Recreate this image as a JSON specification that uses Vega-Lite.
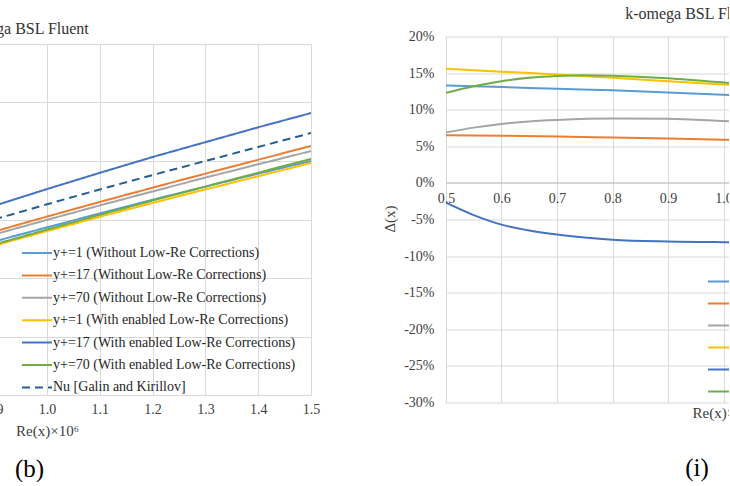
{
  "$schema": "https://vega.github.io/schema/vega-lite/v6.json",
  "padding": {"left": -217, "right": -272, "top": 5.5, "bottom": 0},
  "autosize": {"type": "pad"},
  "background": "white",
  "bounds": "flush",
  "center": true,
  "spacing": 135,
  "config": {
    "font": "Liberation Serif",
    "view": {"stroke": null},
    "axis": {"labelFont": "Liberation Serif", "labelFontSize": 14, "labelColor": "#404040", "labelFlush": false, "titleFont": "Liberation Serif", "titleFontSize": 15, "titleFontWeight": "normal", "titleColor": "#404040", "gridColor": "#d9d9d9", "gridWidth": 1},
    "legend": {"labelFont": "Liberation Serif", "labelFontSize": 14, "labelColor": "#262626", "padding": 0, "symbolType": "M-1.5,0L1.5,0", "symbolSize": 400, "symbolStrokeWidth": 2, "labelOffset": 5, "labelLimit": 400},
    "title": {"font": "Liberation Serif", "fontSize": 16, "fontWeight": "normal", "color": "#333333"}
  },
  "datasets": {
    "nu": [
      {"re": 0.9, "nu": 1312, "series": "y+=1 (Without Low-Re Corrections)"},
      {"re": 1.0, "nu": 1433, "series": "y+=1 (Without Low-Re Corrections)"},
      {"re": 1.1, "nu": 1552, "series": "y+=1 (Without Low-Re Corrections)"},
      {"re": 1.2, "nu": 1669, "series": "y+=1 (Without Low-Re Corrections)"},
      {"re": 1.3, "nu": 1781, "series": "y+=1 (Without Low-Re Corrections)"},
      {"re": 1.4, "nu": 1892, "series": "y+=1 (Without Low-Re Corrections)"},
      {"re": 1.5, "nu": 2000, "series": "y+=1 (Without Low-Re Corrections)"},
      {"re": 0.9, "nu": 1397, "series": "y+=17 (Without Low-Re Corrections)"},
      {"re": 1.0, "nu": 1525, "series": "y+=17 (Without Low-Re Corrections)"},
      {"re": 1.1, "nu": 1650, "series": "y+=17 (Without Low-Re Corrections)"},
      {"re": 1.2, "nu": 1772, "series": "y+=17 (Without Low-Re Corrections)"},
      {"re": 1.3, "nu": 1892, "series": "y+=17 (Without Low-Re Corrections)"},
      {"re": 1.4, "nu": 2011, "series": "y+=17 (Without Low-Re Corrections)"},
      {"re": 1.5, "nu": 2128, "series": "y+=17 (Without Low-Re Corrections)"},
      {"re": 0.9, "nu": 1372, "series": "y+=70 (Without Low-Re Corrections)"},
      {"re": 1.0, "nu": 1497, "series": "y+=70 (Without Low-Re Corrections)"},
      {"re": 1.1, "nu": 1620, "series": "y+=70 (Without Low-Re Corrections)"},
      {"re": 1.2, "nu": 1740, "series": "y+=70 (Without Low-Re Corrections)"},
      {"re": 1.3, "nu": 1858, "series": "y+=70 (Without Low-Re Corrections)"},
      {"re": 1.4, "nu": 1972, "series": "y+=70 (Without Low-Re Corrections)"},
      {"re": 1.5, "nu": 2085, "series": "y+=70 (Without Low-Re Corrections)"},
      {"re": 0.9, "nu": 1277, "series": "y+=1 (With enabled Low-Re Corrections)"},
      {"re": 1.0, "nu": 1401, "series": "y+=1 (With enabled Low-Re Corrections)"},
      {"re": 1.1, "nu": 1523, "series": "y+=1 (With enabled Low-Re Corrections)"},
      {"re": 1.2, "nu": 1642, "series": "y+=1 (With enabled Low-Re Corrections)"},
      {"re": 1.3, "nu": 1757, "series": "y+=1 (With enabled Low-Re Corrections)"},
      {"re": 1.4, "nu": 1870, "series": "y+=1 (With enabled Low-Re Corrections)"},
      {"re": 1.5, "nu": 1983, "series": "y+=1 (With enabled Low-Re Corrections)"},
      {"re": 0.9, "nu": 1617, "series": "y+=17 (With enabled Low-Re Corrections)"},
      {"re": 1.0, "nu": 1760, "series": "y+=17 (With enabled Low-Re Corrections)"},
      {"re": 1.1, "nu": 1899, "series": "y+=17 (With enabled Low-Re Corrections)"},
      {"re": 1.2, "nu": 2034, "series": "y+=17 (With enabled Low-Re Corrections)"},
      {"re": 1.3, "nu": 2161, "series": "y+=17 (With enabled Low-Re Corrections)"},
      {"re": 1.4, "nu": 2288, "series": "y+=17 (With enabled Low-Re Corrections)"},
      {"re": 1.5, "nu": 2410, "series": "y+=17 (With enabled Low-Re Corrections)"},
      {"re": 0.9, "nu": 1286, "series": "y+=70 (With enabled Low-Re Corrections)"},
      {"re": 1.0, "nu": 1414, "series": "y+=70 (With enabled Low-Re Corrections)"},
      {"re": 1.1, "nu": 1540, "series": "y+=70 (With enabled Low-Re Corrections)"},
      {"re": 1.2, "nu": 1662, "series": "y+=70 (With enabled Low-Re Corrections)"},
      {"re": 1.3, "nu": 1781, "series": "y+=70 (With enabled Low-Re Corrections)"},
      {"re": 1.4, "nu": 1900, "series": "y+=70 (With enabled Low-Re Corrections)"},
      {"re": 1.5, "nu": 2017, "series": "y+=70 (With enabled Low-Re Corrections)"},
      {"re": 0.9, "nu": 1500, "series": "Nu [Galin and Kirillov]"},
      {"re": 1.0, "nu": 1630, "series": "Nu [Galin and Kirillov]"},
      {"re": 1.1, "nu": 1757, "series": "Nu [Galin and Kirillov]"},
      {"re": 1.2, "nu": 1880, "series": "Nu [Galin and Kirillov]"},
      {"re": 1.3, "nu": 2000, "series": "Nu [Galin and Kirillov]"},
      {"re": 1.4, "nu": 2120, "series": "Nu [Galin and Kirillov]"},
      {"re": 1.5, "nu": 2239, "series": "Nu [Galin and Kirillov]"}
    ],
    "delta": [
      {"re": 0.5, "d": 13.3, "series": "y+=1 (Without Low-Re Corrections)"},
      {"re": 0.6, "d": 13.1, "series": "y+=1 (Without Low-Re Corrections)"},
      {"re": 0.7, "d": 12.85, "series": "y+=1 (Without Low-Re Corrections)"},
      {"re": 0.8, "d": 12.65, "series": "y+=1 (Without Low-Re Corrections)"},
      {"re": 0.9, "d": 12.35, "series": "y+=1 (Without Low-Re Corrections)"},
      {"re": 1.0, "d": 12.05, "series": "y+=1 (Without Low-Re Corrections)"},
      {"re": 1.1, "d": 11.8, "series": "y+=1 (Without Low-Re Corrections)"},
      {"re": 1.2, "d": 11.55, "series": "y+=1 (Without Low-Re Corrections)"},
      {"re": 1.3, "d": 11.3, "series": "y+=1 (Without Low-Re Corrections)"},
      {"re": 1.4, "d": 11.1, "series": "y+=1 (Without Low-Re Corrections)"},
      {"re": 1.5, "d": 10.9, "series": "y+=1 (Without Low-Re Corrections)"},
      {"re": 0.5, "d": 6.5, "series": "y+=17 (Without Low-Re Corrections)"},
      {"re": 0.6, "d": 6.45, "series": "y+=17 (Without Low-Re Corrections)"},
      {"re": 0.7, "d": 6.35, "series": "y+=17 (Without Low-Re Corrections)"},
      {"re": 0.8, "d": 6.2, "series": "y+=17 (Without Low-Re Corrections)"},
      {"re": 0.9, "d": 6.05, "series": "y+=17 (Without Low-Re Corrections)"},
      {"re": 1.0, "d": 5.9, "series": "y+=17 (Without Low-Re Corrections)"},
      {"re": 1.1, "d": 5.75, "series": "y+=17 (Without Low-Re Corrections)"},
      {"re": 1.2, "d": 5.6, "series": "y+=17 (Without Low-Re Corrections)"},
      {"re": 1.3, "d": 5.45, "series": "y+=17 (Without Low-Re Corrections)"},
      {"re": 1.4, "d": 5.3, "series": "y+=17 (Without Low-Re Corrections)"},
      {"re": 1.5, "d": 5.2, "series": "y+=17 (Without Low-Re Corrections)"},
      {"re": 0.5, "d": 6.9, "series": "y+=70 (Without Low-Re Corrections)"},
      {"re": 0.55, "d": 7.55, "series": "y+=70 (Without Low-Re Corrections)"},
      {"re": 0.6, "d": 8.05, "series": "y+=70 (Without Low-Re Corrections)"},
      {"re": 0.65, "d": 8.4, "series": "y+=70 (Without Low-Re Corrections)"},
      {"re": 0.7, "d": 8.6, "series": "y+=70 (Without Low-Re Corrections)"},
      {"re": 0.8, "d": 8.8, "series": "y+=70 (Without Low-Re Corrections)"},
      {"re": 0.9, "d": 8.75, "series": "y+=70 (Without Low-Re Corrections)"},
      {"re": 1.0, "d": 8.45, "series": "y+=70 (Without Low-Re Corrections)"},
      {"re": 1.1, "d": 8.1, "series": "y+=70 (Without Low-Re Corrections)"},
      {"re": 1.2, "d": 7.7, "series": "y+=70 (Without Low-Re Corrections)"},
      {"re": 1.3, "d": 7.3, "series": "y+=70 (Without Low-Re Corrections)"},
      {"re": 1.4, "d": 6.9, "series": "y+=70 (Without Low-Re Corrections)"},
      {"re": 1.5, "d": 6.5, "series": "y+=70 (Without Low-Re Corrections)"},
      {"re": 0.5, "d": 15.6, "series": "y+=1 (With enabled Low-Re Corrections)"},
      {"re": 0.6, "d": 15.2, "series": "y+=1 (With enabled Low-Re Corrections)"},
      {"re": 0.7, "d": 14.8, "series": "y+=1 (With enabled Low-Re Corrections)"},
      {"re": 0.8, "d": 14.35, "series": "y+=1 (With enabled Low-Re Corrections)"},
      {"re": 0.9, "d": 13.9, "series": "y+=1 (With enabled Low-Re Corrections)"},
      {"re": 1.0, "d": 13.45, "series": "y+=1 (With enabled Low-Re Corrections)"},
      {"re": 1.1, "d": 13.0, "series": "y+=1 (With enabled Low-Re Corrections)"},
      {"re": 1.2, "d": 12.6, "series": "y+=1 (With enabled Low-Re Corrections)"},
      {"re": 1.3, "d": 12.2, "series": "y+=1 (With enabled Low-Re Corrections)"},
      {"re": 1.4, "d": 11.8, "series": "y+=1 (With enabled Low-Re Corrections)"},
      {"re": 1.5, "d": 11.4, "series": "y+=1 (With enabled Low-Re Corrections)"},
      {"re": 0.5, "d": -2.7, "series": "y+=17 (With enabled Low-Re Corrections)"},
      {"re": 0.55, "d": -4.4, "series": "y+=17 (With enabled Low-Re Corrections)"},
      {"re": 0.6, "d": -5.7, "series": "y+=17 (With enabled Low-Re Corrections)"},
      {"re": 0.65, "d": -6.5, "series": "y+=17 (With enabled Low-Re Corrections)"},
      {"re": 0.7, "d": -7.05, "series": "y+=17 (With enabled Low-Re Corrections)"},
      {"re": 0.75, "d": -7.45, "series": "y+=17 (With enabled Low-Re Corrections)"},
      {"re": 0.8, "d": -7.75, "series": "y+=17 (With enabled Low-Re Corrections)"},
      {"re": 0.9, "d": -8.0, "series": "y+=17 (With enabled Low-Re Corrections)"},
      {"re": 1.0, "d": -8.1, "series": "y+=17 (With enabled Low-Re Corrections)"},
      {"re": 1.1, "d": -8.15, "series": "y+=17 (With enabled Low-Re Corrections)"},
      {"re": 1.2, "d": -8.15, "series": "y+=17 (With enabled Low-Re Corrections)"},
      {"re": 1.3, "d": -8.1, "series": "y+=17 (With enabled Low-Re Corrections)"},
      {"re": 1.4, "d": -8.05, "series": "y+=17 (With enabled Low-Re Corrections)"},
      {"re": 1.5, "d": -8.0, "series": "y+=17 (With enabled Low-Re Corrections)"},
      {"re": 0.5, "d": 12.3, "series": "y+=70 (With enabled Low-Re Corrections)"},
      {"re": 0.55, "d": 13.2, "series": "y+=70 (With enabled Low-Re Corrections)"},
      {"re": 0.6, "d": 13.9, "series": "y+=70 (With enabled Low-Re Corrections)"},
      {"re": 0.65, "d": 14.35, "series": "y+=70 (With enabled Low-Re Corrections)"},
      {"re": 0.7, "d": 14.6, "series": "y+=70 (With enabled Low-Re Corrections)"},
      {"re": 0.75, "d": 14.7, "series": "y+=70 (With enabled Low-Re Corrections)"},
      {"re": 0.8, "d": 14.65, "series": "y+=70 (With enabled Low-Re Corrections)"},
      {"re": 0.9, "d": 14.3, "series": "y+=70 (With enabled Low-Re Corrections)"},
      {"re": 1.0, "d": 13.7, "series": "y+=70 (With enabled Low-Re Corrections)"},
      {"re": 1.1, "d": 13.0, "series": "y+=70 (With enabled Low-Re Corrections)"},
      {"re": 1.2, "d": 12.3, "series": "y+=70 (With enabled Low-Re Corrections)"},
      {"re": 1.3, "d": 11.6, "series": "y+=70 (With enabled Low-Re Corrections)"},
      {"re": 1.4, "d": 10.9, "series": "y+=70 (With enabled Low-Re Corrections)"},
      {"re": 1.5, "d": 10.2, "series": "y+=70 (With enabled Low-Re Corrections)"}
    ]
  },
  "resolve": {
    "scale": {"color": "independent", "strokeDash": "independent", "x": "independent", "y": "independent"},
    "legend": {"color": "independent", "strokeDash": "independent"}
  },
  "hconcat": [
    {
      "width": 528,
      "height": 351,
      "title": {"text": "k-omega BSL Fluent", "frame": "group", "anchor": "middle", "dx": -25, "offset": 7.5},
      "data": {"name": "nu"},
      "layer": [
        {
          "mark": {"type": "line", "strokeWidth": 2, "clip": true},
          "encoding": {
            "x": {
              "field": "re", "type": "quantitative",
              "scale": {"domain": [0.5, 1.5], "nice": false, "zero": false},
              "axis": {"orient": "bottom", "values": [0.6, 0.7, 0.8, 0.9, 1.0, 1.1, 1.2, 1.3, 1.4, 1.5], "format": ".1f", "grid": false, "domain": false, "ticks": false, "labelPadding": 7, "title": "Re(x)×10⁶", "titleY": 35, "titleBaseline": "middle"}
            },
            "y": {
              "field": "nu", "type": "quantitative",
              "scale": {"domain": [0, 3000], "nice": false, "zero": false},
              "axis": {"values": [0, 500, 1000, 1500, 2000, 2500, 3000], "labels": false, "ticks": false, "domain": false, "title": null, "grid": true}
            },
            "color": {
              "field": "series", "type": "nominal",
              "scale": {
                "domain": ["y+=1 (Without Low-Re Corrections)", "y+=17 (Without Low-Re Corrections)", "y+=70 (Without Low-Re Corrections)", "y+=1 (With enabled Low-Re Corrections)", "y+=17 (With enabled Low-Re Corrections)", "y+=70 (With enabled Low-Re Corrections)", "Nu [Galin and Kirillov]"],
                "range": ["#5B9BD5", "#ED7D31", "#A5A5A5", "#FFC000", "#4472C4", "#70AD47", "#255E91"]
              },
              "legend": {"title": null, "orient": "none", "legendX": 243, "legendY": 198, "rowPadding": 4.4}
            },
            "strokeDash": {
              "field": "series", "type": "nominal",
              "scale": {
                "domain": ["y+=1 (Without Low-Re Corrections)", "y+=17 (Without Low-Re Corrections)", "y+=70 (Without Low-Re Corrections)", "y+=1 (With enabled Low-Re Corrections)", "y+=17 (With enabled Low-Re Corrections)", "y+=70 (With enabled Low-Re Corrections)", "Nu [Galin and Kirillov]"],
                "range": [[1, 0], [1, 0], [1, 0], [1, 0], [1, 0], [1, 0], [8, 5]]
              },
              "legend": {"title": null, "orient": "none", "legendX": 243, "legendY": 198, "rowPadding": 4.4}
            }
          }
        },
        {
          "mark": {"type": "rule", "opacity": 0},
          "encoding": {
            "x": {
              "field": "re", "type": "quantitative",
              "axis": {"orient": "bottom", "values": [0.5, 0.6, 0.7, 0.8, 0.9, 1.0, 1.1, 1.2, 1.3, 1.4, 1.5], "grid": true, "labels": false, "ticks": false, "domain": false, "title": "(b)", "titleX": 246, "titleY": 73, "titleBaseline": "middle", "titleFontSize": 25, "titleColor": "#000000"}
            }
          }
        }
      ],
      "resolve": {"axis": {"x": "independent"}}
    },
    {
      "width": 555,
      "height": 366,
      "title": {"text": "k-omega BSL Fluent", "frame": "group", "anchor": "middle", "dx": -31.5, "offset": 7.5},
      "data": {"name": "delta"},
      "layer": [
        {
          "mark": {"type": "line", "strokeWidth": 2, "interpolate": "monotone", "clip": true},
          "encoding": {
            "x": {
              "field": "re", "type": "quantitative",
              "scale": {"domain": [0.5, 1.5], "nice": false, "zero": false},
              "axis": {"orient": "bottom", "offset": -220, "values": [0.5, 0.6, 0.7, 0.8, 0.9, 1.0, 1.1, 1.2, 1.3, 1.4], "format": ".1f", "grid": false, "domain": true, "domainColor": "#bfbfbf", "ticks": false, "labelPadding": 9, "title": "Re(x)×10⁶", "titleY": 230, "titleBaseline": "middle"}
            },
            "y": {
              "field": "d", "type": "quantitative",
              "scale": {"domain": [-30, 20], "nice": false, "zero": false},
              "axis": {"values": [-30, -25, -20, -15, -10, -5, 0, 5, 10, 15, 20], "labelExpr": "datum.value + '%'", "ticks": false, "domain": false, "grid": true, "labelPadding": 12, "title": "Δ(x)", "titleX": -57, "titleY": 182, "titleBaseline": "middle"}
            },
            "color": {
              "field": "series", "type": "nominal",
              "scale": {
                "domain": ["y+=1 (Without Low-Re Corrections)", "y+=17 (Without Low-Re Corrections)", "y+=70 (Without Low-Re Corrections)", "y+=1 (With enabled Low-Re Corrections)", "y+=17 (With enabled Low-Re Corrections)", "y+=70 (With enabled Low-Re Corrections)"],
                "range": ["#5B9BD5", "#ED7D31", "#A5A5A5", "#FFC000", "#4472C4", "#70AD47"]
              },
              "legend": {"title": null, "orient": "none", "legendX": 266, "legendY": 234, "rowPadding": 4}
            }
          }
        },
        {
          "mark": {"type": "rule", "opacity": 0},
          "encoding": {
            "x": {
              "field": "re", "type": "quantitative",
              "axis": {"orient": "bottom", "values": [0.5, 0.6, 0.7, 0.8, 0.9, 1.0, 1.1, 1.2, 1.3, 1.4, 1.5], "grid": true, "labels": false, "ticks": false, "domain": false, "title": "(i)", "titleX": 250.5, "titleY": 65, "titleBaseline": "middle", "titleFontSize": 25, "titleColor": "#000000"}
            }
          }
        }
      ],
      "resolve": {"axis": {"x": "independent"}}
    }
  ]
}
